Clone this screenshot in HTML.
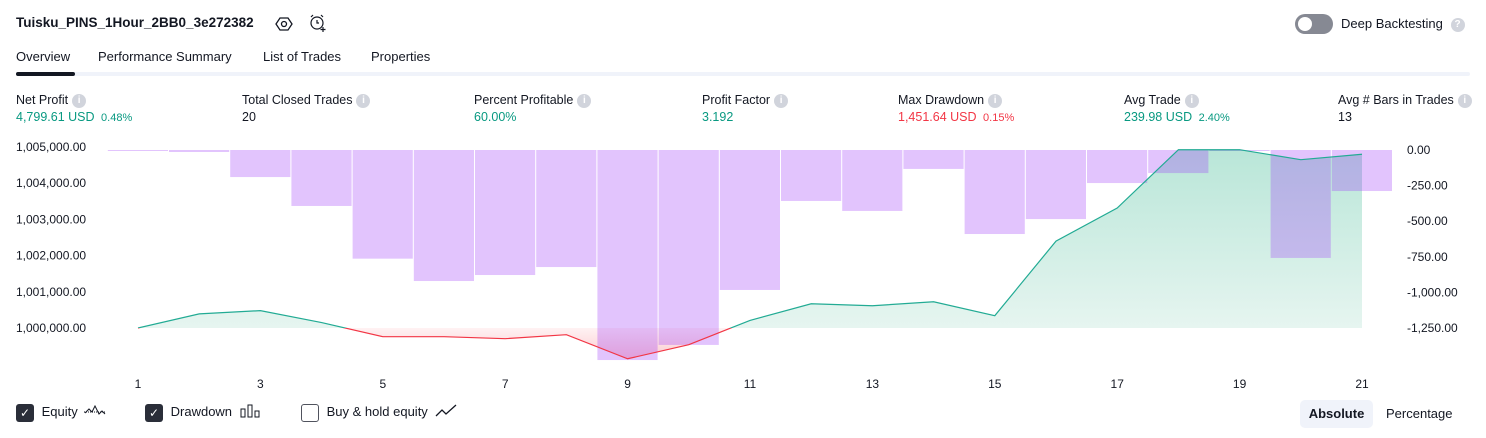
<!DOCTYPE html>
<html><head><meta charset="utf-8">
<style>
*{box-sizing:border-box;margin:0;padding:0}
body{width:1486px;height:438px;background:#fff;font-family:"Liberation Sans",sans-serif;color:#131722;position:relative;overflow:hidden;font-size:13px}
.abs{position:absolute;white-space:nowrap}
.info{display:inline-block;width:14px;height:14px;border-radius:50%;background:#d1d4dc;color:#fff;font-size:10px;text-align:center;line-height:14px;font-weight:bold;vertical-align:1px;margin-left:4px}
.lbl{font-size:12.5px;color:#131722}
.val{font-size:12.5px}
.g{color:#089981}.r{color:#f23645}
.small{font-size:11px}
.cb{display:inline-block;width:18px;height:18px;border-radius:3px;vertical-align:middle}
</style></head><body>
<div class="abs" style="left:16px;top:15px;font-size:13.5px;font-weight:bold">Tuisku_PINS_1Hour_2BB0_3e272382</div>
<svg class="abs" style="left:275px;top:15px" width="18" height="18" viewBox="0 0 18 18"><path d="M5 3h8l4 6-4 6H5L1 9z" fill="none" stroke="#131722" stroke-width="1.3"/><circle cx="9" cy="9" r="2.5" fill="none" stroke="#131722" stroke-width="1.3"/></svg>
<svg class="abs" style="left:308px;top:13px" width="20" height="20" viewBox="0 0 20 20"><circle cx="9" cy="10" r="6" fill="none" stroke="#131722" stroke-width="1.2"/><path d="M9 7v3h2M3 4l2-2M15 4l-2-2M15 14v5M12.5 16.5h5" fill="none" stroke="#131722" stroke-width="1.2"/></svg>
<div class="abs" style="left:1295px;top:14px;width:38px;height:20px;border-radius:10px;background:#868993"><div style="position:absolute;left:3px;top:3px;width:14px;height:14px;border-radius:50%;background:#fff"></div></div>
<div class="abs" style="left:1341px;top:16px">Deep Backtesting <span class="info">?</span></div>

<div class="abs" style="left:16px;top:49px">Overview</div>
<div class="abs" style="left:98px;top:49px">Performance Summary</div>
<div class="abs" style="left:263px;top:49px">List of Trades</div>
<div class="abs" style="left:371px;top:49px">Properties</div>
<div class="abs" style="left:16px;top:72px;width:1454px;height:4px;background:#f0f3fa;border-radius:2px"></div>
<div class="abs" style="left:16px;top:72px;width:59px;height:4px;background:#131722;border-radius:2px"></div>

<div class="abs" style="left:16px;top:93px"><div class="lbl">Net Profit<span class="info">i</span></div><div class="val g" style="margin-top:2px">4,799.61 USD <span class="small">&nbsp;0.48%</span></div></div>
<div class="abs" style="left:242px;top:93px"><div class="lbl">Total Closed Trades<span class="info">i</span></div><div class="val" style="margin-top:2px">20</div></div>
<div class="abs" style="left:474px;top:93px"><div class="lbl">Percent Profitable<span class="info">i</span></div><div class="val g" style="margin-top:2px">60.00%</div></div>
<div class="abs" style="left:702px;top:93px"><div class="lbl">Profit Factor<span class="info">i</span></div><div class="val g" style="margin-top:2px">3.192</div></div>
<div class="abs" style="left:898px;top:93px"><div class="lbl">Max Drawdown<span class="info">i</span></div><div class="val r" style="margin-top:2px">1,451.64 USD <span class="small">&nbsp;0.15%</span></div></div>
<div class="abs" style="left:1124px;top:93px"><div class="lbl">Avg Trade<span class="info">i</span></div><div class="val g" style="margin-top:2px">239.98 USD <span class="small">&nbsp;2.40%</span></div></div>
<div class="abs" style="left:1338px;top:93px"><div class="lbl">Avg # Bars in Trades<span class="info">i</span></div><div class="val" style="margin-top:2px">13</div></div>

<svg class="abs" id="chart" style="left:0;top:0" width="1486" height="400"></svg>

<div class="abs" style="left:16px;top:404px"><span class="cb" style="background:#2a2e39;color:#fff;text-align:center;line-height:18px;font-size:12px">✓</span> <span style="margin-left:4px">Equity</span> <svg width="24" height="14" style="vertical-align:-2px;margin-left:2px"><path d="M1 8h22" stroke="#131722" stroke-dasharray="1 1"/><path d="M2 9l4-4 3 3 3-6 4 8 3-3 3 3" fill="none" stroke="#131722" stroke-width="1"/></svg></div>
<div class="abs" style="left:145px;top:404px"><span class="cb" style="background:#2a2e39;color:#fff;text-align:center;line-height:18px;font-size:12px">✓</span> <span style="margin-left:4px">Drawdown</span> <svg width="20" height="14" style="vertical-align:-2px;margin-left:4px"><rect x="1" y="5" width="4" height="8" fill="none" stroke="#131722"/><rect x="8" y="1" width="4" height="12" fill="none" stroke="#131722"/><rect x="15" y="7" width="4" height="6" fill="none" stroke="#131722"/></svg></div>
<div class="abs" style="left:301px;top:404px"><span class="cb" style="border:1.5px solid #50535e"></span> <span style="margin-left:4px">Buy &amp; hold equity</span> <svg width="22" height="14" style="vertical-align:-2px;margin-left:4px"><path d="M1 12l6-6 4 4 10-9" fill="none" stroke="#131722" stroke-width="1.3"/></svg></div>
<div class="abs" style="left:1300px;top:400px;width:73px;height:28px;background:#f0f3fa;border-radius:5px;font-weight:bold;text-align:center;line-height:28px">Absolute</div>
<div class="abs" style="left:1386px;top:406px">Percentage</div>

<script>
const tradeNums=[1,2,3,4,5,6,7,8,9,10,11,12,13,14,15,16,17,18,19,20,21];
const equity=[1000000,1000390,1000480,1000150,999760,999760,999705,999815,999150,999540,1000210,1000670,1000615,1000725,1000340,1002400,1003315,1004925,1004925,1004650,1004799.61];
const drawdown=[-5,-14,-190,-393,-763,-920,-878,-822,-1475,-1369,-983,-358,-428,-133,-590,-485,-232,-162,-2,-758,-288];
const leftTicks=[1005000,1004000,1003000,1002000,1001000,1000000];
const rightTicks=[0,-250,-500,-750,-1000,-1250];
const xTicks=[1,3,5,7,9,11,13,15,17,19,21];

const NS='http://www.w3.org/2000/svg';
const svg=document.getElementById('chart');
const x=i=>138+(i-1)*61.2;
const yL=v=>328-(v-1000000)*0.0362;
const yR=v=>150-v*0.1424;
function mk(t,a,p){const e=document.createElementNS(NS,t);for(const k in a)e.setAttribute(k,a[k]);(p||svg).appendChild(e);return e;}
const defs=mk('defs',{});
defs.innerHTML='<linearGradient id="gg" x1="0" y1="150" x2="0" y2="328" gradientUnits="userSpaceOnUse"><stop offset="0" stop-color="#b9e6d8"/><stop offset="1" stop-color="#e6f5f0"/></linearGradient><linearGradient id="rg" x1="0" y1="328" x2="0" y2="360" gradientUnits="userSpaceOnUse"><stop offset="0" stop-color="#fff2f3"/><stop offset="1" stop-color="#fbc9ce"/></linearGradient><clipPath id="above"><rect x="0" y="0" width="1486" height="328"/></clipPath><clipPath id="below"><rect x="0" y="328" width="1486" height="100"/></clipPath>';
const base=yL(1000000);
let pts=equity.map((v,i)=>x(tradeNums[i])+','+yL(v)).join(' ');
let area=x(tradeNums[0])+','+base+' '+pts+' '+x(tradeNums[tradeNums.length-1])+','+base;
let a1=mk('polygon',{points:area,fill:'url(#gg)','clip-path':'url(#above)'});


let a2=mk('polygon',{points:area,fill:'url(#rg)','clip-path':'url(#below)'});


drawdown.forEach((v,i)=>{
  const cx=x(tradeNums[i]);
  const r=mk('rect',{x:cx-30.2,y:yR(0),width:60.2,height:Math.max(1,yR(v)-yR(0)),fill:'rgba(160,60,250,0.3)'});
  
  
});
let l1=mk('polyline',{points:pts,fill:'none',stroke:'#22ab94','stroke-width':1.2,'clip-path':'url(#above)'});


let l2=mk('polyline',{points:pts,fill:'none',stroke:'#f23645','stroke-width':1.2,'clip-path':'url(#below)'});


const fmt=v=>v.toLocaleString('en-US',{minimumFractionDigits:2,maximumFractionDigits:2});
leftTicks.forEach(v=>{
  const t=mk('text',{x:16,y:yL(v)+4,'font-size':12,fill:'#131722','font-family':'Liberation Sans, sans-serif'});t.textContent=fmt(v);
  
  
});
rightTicks.forEach(v=>{
  const t=mk('text',{x:1407,y:yR(v)+4,'font-size':12,fill:'#131722','font-family':'Liberation Sans, sans-serif'});t.textContent=fmt(v);
  
  
});
xTicks.forEach(v=>{
  const t=mk('text',{x:x(v),y:388,'font-size':12,fill:'#131722','text-anchor':'middle','font-family':'Liberation Sans, sans-serif'});t.textContent=v;
  
  
});
</script>
</body></html>
